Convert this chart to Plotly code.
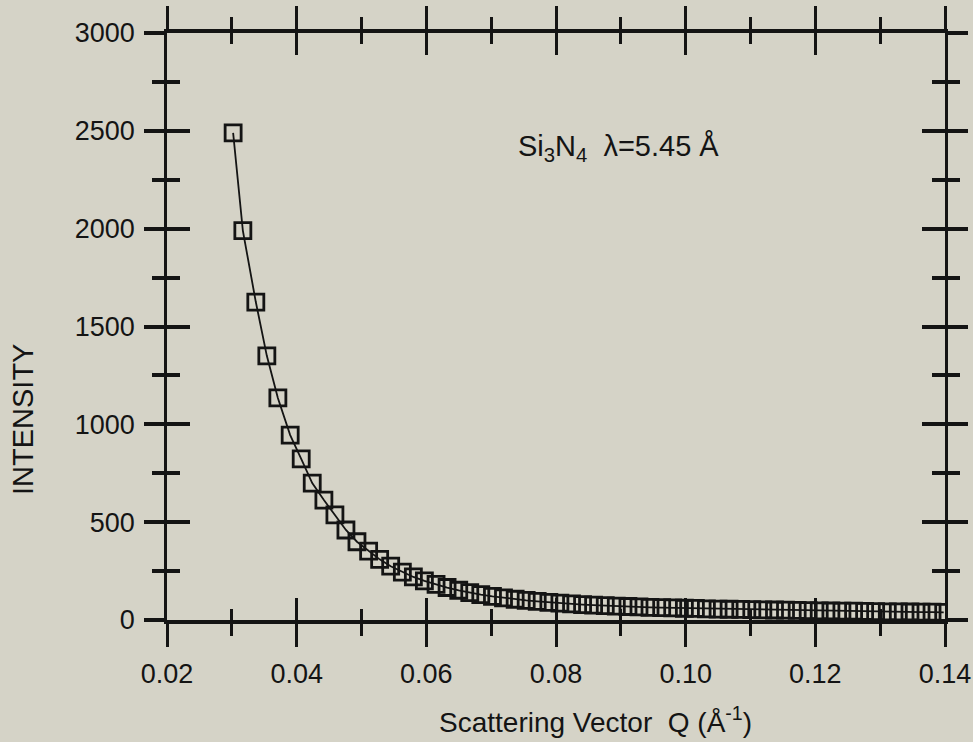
import plotly.graph_objects as go

# Data
q_values = [0.0302, 0.0317, 0.0337, 0.0354, 0.0371, 0.0390, 0.0407, 0.0424, 0.0442, 0.0459,
            0.0476, 0.0493, 0.0511, 0.0528, 0.0545, 0.0563, 0.0580, 0.0597, 0.0615, 0.0632,
            0.0650, 0.0667, 0.0684, 0.0702, 0.0719, 0.0737, 0.0754, 0.0771, 0.0789, 0.0806,
            0.0824, 0.0841, 0.0858, 0.0876, 0.0893, 0.0911, 0.0928, 0.0945, 0.0963, 0.0980,
            0.0998, 0.1015, 0.1032, 0.1050, 0.1067, 0.1085, 0.1102, 0.1119, 0.1137, 0.1154,
            0.1172, 0.1189, 0.1206, 0.1224, 0.1241, 0.1259, 0.1276, 0.1293, 0.1311, 0.1328,
            0.1346, 0.1363, 0.1380, 0.1398]
intensity = [2490, 1990, 1625, 1350, 1135, 945, 823, 700, 613, 537,
             460, 400, 352, 310, 275, 245, 220, 200, 182, 166,
             152, 140, 130, 121, 113, 106, 100, 95, 90, 86,
             82, 79, 76, 73, 71, 69, 67, 65, 63, 62,
             60, 59, 57, 56, 55, 54, 53, 52, 51, 50,
             49, 48, 47, 46, 45, 45, 44, 43, 42, 42,
             41, 40, 40, 39]

x_tickvals = [0.02, 0.04, 0.06, 0.08, 0.10, 0.12, 0.14]
x_ticktext = ["0.02", "0.04", "0.06", "0.08", "0.10", "0.12", "0.14"]
x_minor = [0.03, 0.05, 0.07, 0.09, 0.11, 0.13]
y_tickvals = [0, 500, 1000, 1500, 2000, 2500, 3000]
y_ticktext = ["0", "500", "1000", "1500", "2000", "2500", "3000"]
y_minor = [250, 750, 1250, 1750, 2250, 2750]

BG = "#d5d3c7"
INK = "#141414"
FONT = "Liberation Sans, Arial, sans-serif"

fig = go.Figure()
fig.add_trace(go.Scatter(
    x=q_values, y=intensity, mode="lines+markers",
    line=dict(color=INK, width=1.8),
    marker=dict(symbol="square-open", size=16, color=INK, line=dict(color=INK, width=2.8)),
    showlegend=False, hoverinfo="skip",
))
# invisible trace to instantiate the overlay axes (inner halves of crossing ticks)
fig.add_trace(go.Scatter(
    x=q_values, y=intensity, mode="lines", xaxis="x2", yaxis="y2",
    line=dict(color="rgba(0,0,0,0)", width=0), showlegend=False, hoverinfo="skip",
))

xr = [0.02, 0.14]
yr = [0, 3000]

fig.update_layout(
    template="none",
    width=973, height=742,
    margin=dict(l=167, r=28, t=33, b=122, autoexpand=False),
    paper_bgcolor=BG, plot_bgcolor=BG,
    font=dict(family=FONT, color=INK, size=27),
    xaxis=dict(
        range=xr, tickvals=x_tickvals, ticktext=x_ticktext, automargin=False,
        ticks="outside", ticklen=23, tickwidth=2.5, tickcolor=INK,
        minor=dict(tickvals=x_minor, ticks="outside", ticklen=12, tickwidth=2.5, tickcolor=INK),
        showline=True, linewidth=3.5, linecolor=INK, mirror="ticks",
        showgrid=False, zeroline=False, ticklabelstandoff=4,
        tickfont=dict(size=27, family=FONT, color=INK),
    ),
    xaxis2=dict(
        range=xr, overlaying="x", anchor="y2", side="bottom", automargin=False,
        tickvals=x_tickvals, ticks="inside", ticklen=22, tickwidth=2.5, tickcolor=INK,
        minor=dict(tickvals=x_minor, ticks="inside", ticklen=11, tickwidth=2.5, tickcolor=INK),
        showticklabels=False, showline=False, mirror="ticks",
        showgrid=False, zeroline=False,
    ),
    yaxis=dict(
        range=yr, tickvals=y_tickvals, ticktext=y_ticktext, automargin=False,
        ticks="outside", ticklen=20, tickwidth=4, tickcolor=INK,
        minor=dict(tickvals=y_minor, ticks="outside", ticklen=12, tickwidth=4, tickcolor=INK),
        showline=True, linewidth=2.5, linecolor=INK, mirror="ticks",
        showgrid=False, zeroline=False, ticklabelstandoff=4,
        tickfont=dict(size=27, family=FONT, color=INK),
    ),
    yaxis2=dict(
        range=yr, overlaying="y", anchor="x2", side="left", automargin=False,
        tickvals=y_tickvals, ticks="inside", ticklen=23, tickwidth=4, tickcolor=INK,
        minor=dict(tickvals=y_minor, ticks="inside", ticklen=13, tickwidth=4, tickcolor=INK),
        showticklabels=False, showline=False, mirror="ticks",
        showgrid=False, zeroline=False,
    ),
    annotations=[
        dict(text="Si<sub>3</sub>N<sub>4</sub>  λ=5.45 Å", xref="paper", yref="paper",
             x=(618 - 167) / 778, y=(620 - 148) / 587, xanchor="center", yanchor="middle",
             showarrow=False, font=dict(size=29, family=FONT, color=INK)),
        dict(text="Scattering Vector  Q (Å<sup>-1</sup>)", xref="paper", yref="paper",
             x=(595 - 167) / 778, y=(620 - 720) / 587, xanchor="center", yanchor="middle",
             showarrow=False, font=dict(size=28, family=FONT, color=INK)),
        dict(text="INTENSITY", xref="paper", yref="paper", textangle=-90,
             x=(23 - 167) / 778, y=(620 - 420) / 587, xanchor="center", yanchor="middle",
             showarrow=False, font=dict(size=29, family=FONT, color=INK)),
    ],
)

fig.write_html(
    "out.html",
    config={"displayModeBar": False},
    post_script="document.body.style.margin='0';document.body.style.overflow='hidden';",
)
